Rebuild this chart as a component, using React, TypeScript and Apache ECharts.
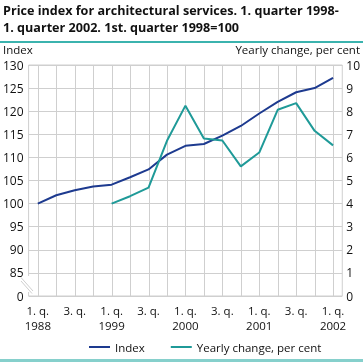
import React, { useEffect, useRef } from "react";
import * as echarts from "echarts";

const categories = [
  "1. q.\n1988", "2. q.", "3. q.", "4. q.",
  "1. q.\n1999", "2. q.", "3. q.", "4. q.",
  "1. q.\n2000", "2. q.", "3. q.", "4. q.",
  "1. q.\n2001", "2. q.", "3. q.", "4. q.",
  "1. q.\n2002",
];
const indexValues = [100.0, 101.8, 102.9, 103.7, 104.1, 105.7, 107.4, 110.6, 112.5, 112.9, 114.7, 116.8, 119.5, 122.0, 124.1, 125.0, 127.2];
const yearlyChange = [null, null, null, null, 4.0, 4.32, 4.69, 6.72, 8.24, 6.82, 6.73, 5.61, 6.21, 8.06, 8.35, 7.15, 6.52];

const RIGHT_MAX = 10;
const TITLE = "Price index for architectural services. 1. quarter 1998-\n1. quarter 2002. 1st. quarter 1998=100";
const FONT = "'Open Sans', 'Noto Sans', sans-serif";

export default function App() {
  const ref = useRef<HTMLDivElement>(null);
  useEffect(() => {
    if (!ref.current) return;
    const chart = echarts.init(ref.current, undefined, { renderer: "svg" });
    const gridC = "#cfcfcf";
    chart.setOption({
      animation: false,
      textStyle: { fontFamily: FONT },
      grid: { left: 27, right: 20, top: 65, bottom: 66, show: true, borderColor: gridC, borderWidth: 1 },
      xAxis: {
        type: "category",
        data: categories,
        boundaryGap: true,
        axisLine: { show: false },
        axisTick: { show: false },
        axisLabel: { interval: 1, color: "#111", fontSize: 11.5, lineHeight: 15, margin: 7, fontFamily: FONT },
        splitLine: { show: false },
      },
      yAxis: [
        {
          type: "value", min: 80, max: 130, interval: 5,
          axisLine: { show: false }, axisTick: { show: false },
          axisLabel: { color: "#111", fontSize: 12, margin: 5, fontFamily: FONT, formatter: (v: number) => (v === 80 ? "0" : String(v)) },
          splitLine: { show: true, lineStyle: { color: gridC, width: 1 } },
        },
        {
          type: "value", min: 0, max: RIGHT_MAX, interval: 1,
          axisLine: { show: false }, axisTick: { show: false },
          axisLabel: { color: "#111", fontSize: 12, margin: 4, fontFamily: FONT },
          splitLine: { show: false },
        },
      ],
      legend: {
        bottom: 4, left: 84, itemWidth: 21, itemHeight: 2, itemGap: 26, icon: "rect",
        textStyle: { fontSize: 11.5, color: "#111", fontFamily: FONT },
        data: ["Index", "Yearly change, per cent"],
      },
      series: [
        {
          name: "vgrid", type: "custom", yAxisIndex: 1, z: 1, silent: true,
          data: categories.map((_, i) => [i, 0]),
          renderItem: (_params: any, api: any) => {
            const top = api.coord([api.value(0), RIGHT_MAX]);
            const bot = api.coord([api.value(0), 0]);
            const x = Math.round(top[0]) + 0.5;
            return {
              type: "line",
              shape: { x1: x, y1: top[1], x2: x, y2: bot[1] },
              style: { stroke: gridC, lineWidth: 1, fill: "none" },
            };
          },
        },
        { name: "Index", type: "line", z: 3, data: indexValues, yAxisIndex: 0, symbol: "none", lineStyle: { color: "#1d3a8f", width: 2 }, itemStyle: { color: "#1d3a8f" } },
        { name: "Yearly change, per cent", type: "line", z: 3, data: yearlyChange, yAxisIndex: 1, symbol: "none", lineStyle: { color: "#1f9a98", width: 2 }, itemStyle: { color: "#1f9a98" } },
      ],
      graphic: [
        { type: "text", left: 3, top: 2, style: { text: TITLE, font: `bold 12.6px ${FONT}`, fill: "#111", lineHeight: 17 } },
        { type: "rect", shape: { x: 0, y: 41, width: 363, height: 2 }, style: { fill: "#3bb3ae" } },
        { type: "text", left: 3, top: 43, style: { text: "Index", font: `11.5px ${FONT}`, fill: "#111" } },
        { type: "text", right: 3, top: 43, style: { text: "Yearly change, per cent", font: `11.5px ${FONT}`, fill: "#111" } },
        { type: "rect", shape: { x: 0, y: 359, width: 363, height: 3 }, style: { fill: "#86d0cc" } },
        { type: "rect", shape: { x: 22, y: 276, width: 10, height: 16 }, style: { fill: "#fff" }, z: 10 },
        { type: "line", shape: { x1: 21, y1: 277.5, x2: 33, y2: 291 }, style: { stroke: gridC, lineWidth: 1 }, z: 11 },
        { type: "line", shape: { x1: 21, y1: 281, x2: 32, y2: 293.5 }, style: { stroke: gridC, lineWidth: 1 }, z: 11 },
      ],
    });
    return () => chart.dispose();
  }, []);
  return <div ref={ref} style={{ position: "fixed", left: 0, top: 0, width: 363, height: 362 }} />;
}
